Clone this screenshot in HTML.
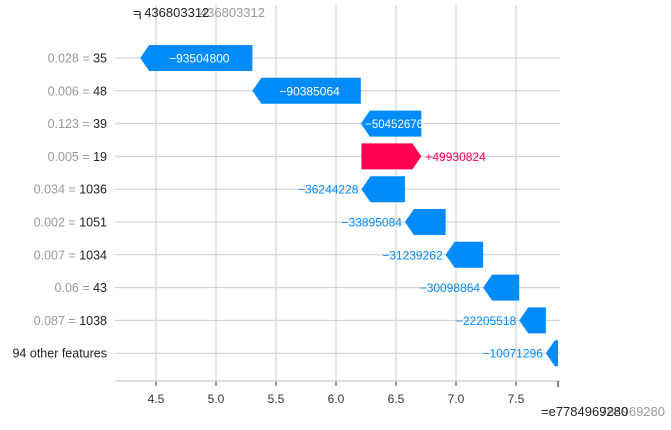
<!DOCTYPE html>
<html><head><meta charset="utf-8"><style>
body{margin:0;background:#fff;font-family:"Liberation Sans",sans-serif}
</style></head><body>
<svg id="c" width="671" height="425" xmlns="http://www.w3.org/2000/svg" style="font-family:'Liberation Sans',sans-serif"></svg>
<script>
const featValues=["0.028","0.006","0.123","0.005","0.034","0.002","0.007","0.06","0.087",""];
const featNames=["35","48","39","19","1036","1051","1034","43","1038","94 other features"];
const shapValues=[-93504800,-90385064,-50452676,49930824,-36244228,-33895084,-31239262,-30098864,-22205518,-10071296];
const baseValue=784969280;
const tickValues=[4.5,5.0,5.5,6.0,6.5,7.0,7.5];
const tickLabels=["4.5","5.0","5.5","6.0","6.5","7.0","7.5"];
const NS="http://www.w3.org/2000/svg",svg=document.getElementById('c');
const X=v=>156+(v/1e8-4.5)*120, Y=i=>58+i*32.8;
function el(t,a,p){const e=document.createElementNS(NS,t);for(const k in a)e.setAttribute(k,a[k]);(p||svg).appendChild(e);return e;}
const fx=baseValue+shapValues.reduce((a,b)=>a+b,0);
tickValues.forEach((t,i)=>{
 const x=156+(t-4.5)*120;
 const g=el('line',{x1:x,x2:x,y1:5,y2:381,stroke:'#cccccc','stroke-width':1});
 
 const tk=el('line',{x1:x,x2:x,y1:381,y2:386,stroke:'#333','stroke-width':1});
 
 const tl=el('text',{x:x,y:403,'text-anchor':'middle','font-size':12,fill:'#333'});tl.textContent=tickLabels[i];
 
});
featNames.forEach((n,i)=>{
 const l=el('line',{x1:115,x2:560,y1:Y(i),y2:Y(i),stroke:'#cccccc','stroke-width':1});
 
});
const ax=el('line',{x1:115,x2:560,y1:381,y2:381,stroke:'#cccccc','stroke-width':1.2});

[[X(baseValue),381,387],[X(fx),12,19]].forEach(m=>{const t=el('line',{x1:m[0],x2:m[0],y1:m[1],y2:m[2],stroke:'#333','stroke-width':1.2});
 });
let cur=baseValue;
for(let i=shapValues.length-1;i>=0;i--){
 const v=shapValues[i],s=cur,e=cur+v;cur=e;
 const x0=X(Math.min(s,e)),x1=X(Math.max(s,e)),y=Y(i),h=13;
 const hd=Math.min(9,x1-x0);
 const col=v<0?'#008bfb':'#ff0051';
 let pts=v<0?[[x1,y-h],[x0+hd,y-h],[x0,y],[x0+hd,y+h],[x1,y+h]]:[[x0,y-h],[x1-hd,y-h],[x1,y],[x1-hd,y+h],[x0,y+h]];
 const p=el('polygon',{points:pts.map(q=>q.join(',')).join(' '),fill:col});
 
 const txt=(v<0?'\u2212':'+')+Math.abs(v);
 const inside=(x1-x0)>(v<0?50:75);
 let t;
 if(inside){t=el('text',{x:(x0+x1)/2+(v<0?3:-3),y:y+4.5,'text-anchor':'middle','font-size':(x1-x0)<70?11.5:12,fill:'#fff'});}
 else if(v<0){t=el('text',{x:x0-3,y:y+4.5,'text-anchor':'end','font-size':12,fill:col});}
 else{t=el('text',{x:x1+4,y:y+4.5,'text-anchor':'start','font-size':12,fill:col});}
 t.textContent=txt;
}
featNames.forEach((n,i)=>{
 const t=el('text',{x:107,y:Y(i)+4.5,'text-anchor':'end','font-size':12.5,fill:'#333'});
 
 if(featValues[i]){const a=el('tspan',{fill:'#999'},t);a.textContent=featValues[i]+' = ';}
 const b=el('tspan',{fill:'#222'},t);b.textContent=n;
});
const f1=el('text',{x:265,y:17,'font-size':13,fill:'#999','text-anchor':'end'});f1.textContent=String(Math.round(fx));

const f2=el('text',{x:133,y:17,'font-size':13,fill:'#222'});f2.textContent='= '+Math.round(fx);

const e1=el('text',{x:665,y:416,'font-size':13,fill:'#999','text-anchor':'end'});e1.textContent=String(baseValue);

const e2=el('text',{x:541,y:416,'font-size':13,fill:'#222'});e2.textContent='=e7'+baseValue;

</script>
</body></html>
